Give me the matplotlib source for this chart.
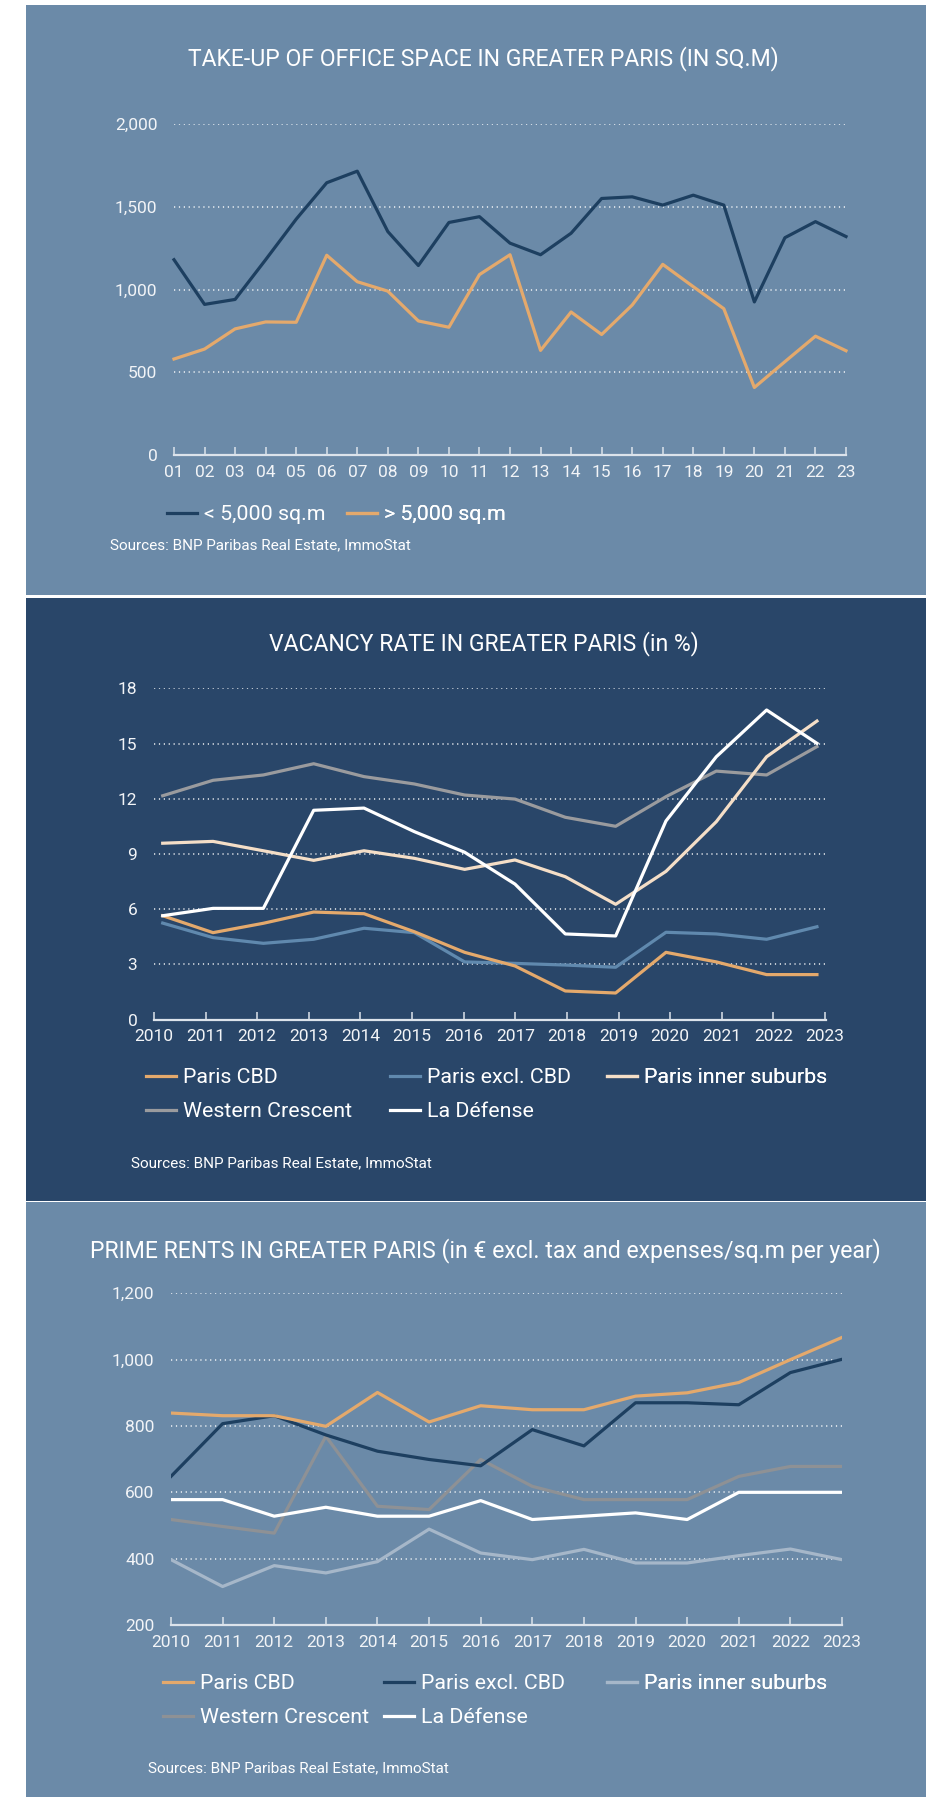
import matplotlib
matplotlib.use("Agg")
import matplotlib.pyplot as plt
from matplotlib.patches import Rectangle
import numpy as np

plt.rcParams['font.family'] = ['Roboto', 'DejaVu Sans']

# --- data ---
takeup_years = ['01', '02', '03', '04', '05', '06', '07', '08', '09', '10', '11', '12',
                '13', '14', '15', '16', '17', '18', '19', '20', '21', '22', '23']
takeup_small = [1180, 910, 940, 1180, 1425, 1645, 1715, 1350, 1145, 1405, 1440, 1280,
                1210, 1340, 1550, 1560, 1510, 1570, 1510, 925, 1313, 1410, 1320]
takeup_large = [580, 640, 762, 804, 802, 1207, 1047, 990, 810, 772, 1090, 1210,
                632, 864, 728, 906, 1152, 1017, 884, 408, 564, 718, 630]

years = ['2010', '2011', '2012', '2013', '2014', '2015', '2016',
         '2017', '2018', '2019', '2020', '2021', '2022', '2023']

vac_cbd = [5.64, 4.72, 5.23, 5.84, 5.75, 4.77, 3.65, 2.91, 1.55, 1.44, 3.65, 3.13, 2.44, 2.44]
vac_excl = [5.24, 4.45, 4.14, 4.36, 4.96, 4.72, 3.13, 3.05, 2.96, 2.84, 4.74, 4.65, 4.36, 5.04]
vac_inner = [9.58, 9.68, 9.17, 8.65, 9.17, 8.76, 8.16, 8.67, 7.76, 6.26, 8.05, 10.75, 14.28, 16.22]
vac_western = [12.16, 13.0, 13.29, 13.9, 13.2, 12.8, 12.2, 11.98, 10.99, 10.5, 12.11, 13.5, 13.29, 14.83]
vac_defense = [5.64, 6.04, 6.04, 11.37, 11.49, 10.21, 9.09, 7.36, 4.65, 4.54, 10.79, 14.28, 16.82, 15.01]

rent_cbd = [839, 831, 831, 799, 901, 812, 861, 849, 849, 890, 900, 931, 1000, 1067]
rent_excl = [648, 807, 831, 773, 724, 699, 680, 789, 740, 870, 870, 864, 961, 1001]
rent_inner = [397, 316, 379, 357, 391, 489, 417, 397, 428, 387, 387, 409, 429, 397]
rent_western = [518, 497, 477, 769, 558, 548, 699, 618, 578, 578, 578, 648, 678, 678]
rent_defense = [578, 578, 528, 555, 528, 528, 575, 518, 528, 538, 518, 600, 600, 600]

# --- colours ---
BG_LIGHT = '#6B8AA8'
BG_DARK = '#294669'
NAVY = '#1D3F60'
ORANGE = '#E4A96C'
STEEL = '#6089AE'
CREAM = '#F4DEC7'
GREY = '#9A9B9E'
GREY3 = '#8E9195'
PALE = '#A6B7C9'
WHITE = '#FFFFFF'
AXIS = '#DCE3EB'

W, H = 926, 1797
fig = plt.figure(figsize=(W / 100, H / 100), dpi=100, facecolor='white')


def fx(x):
    return x / W


def fy(y):
    return 1 - y / H


def panel(y0, y1, color):
    fig.patches.append(Rectangle((fx(26), fy(y1)), fx(926 - 26), (y1 - y0) / H,
                                 transform=fig.transFigure, facecolor=color,
                                 edgecolor='none', zorder=-5))


def make_ax(left, right, top, bottom):
    ax = fig.add_axes([fx(left), fy(bottom), (right - left) / W, (bottom - top) / H])
    ax.set_zorder(2)
    ax.set_facecolor('none')
    for s in ['top', 'right', 'left']:
        ax.spines[s].set_visible(False)
    ax.spines['bottom'].set_color(AXIS)
    ax.spines['bottom'].set_linewidth(1.6)
    ax.tick_params(axis='x', direction='in', length=5.5, width=1.1, color=AXIS,
                   labelcolor='#F2F4F7', labelsize=12.5, pad=7)
    ax.tick_params(axis='y', length=0, labelcolor='#F2F4F7', labelsize=12.5, pad=12)
    ax.grid(axis='y', color='white', linestyle=(0, (0.8, 2.4)), linewidth=1.1, alpha=0.9)
    ax.set_axisbelow(True)
    return ax


def legend_cols(ax, columns, xs, top):
    # one small legend per column so each column sits where the original has it
    hmap = dict(zip(*reversed(ax.get_legend_handles_labels())))
    for labels, x in zip(columns, xs):
        leg = ax.legend([hmap[k] for k in labels], labels, loc='upper left',
                        bbox_to_anchor=(fx(x), fy(top)), bbox_transform=fig.transFigure,
                        frameon=False, fontsize=LEG_FS, labelcolor='white', borderpad=0,
                        borderaxespad=0, handlelength=1.4, handletextpad=0.35,
                        labelspacing=0.72)
        ax.add_artist(leg)


panel(5, 595, BG_LIGHT)
panel(598, 1201, BG_DARK)
panel(1202, 1797, BG_LIGHT)

lw = 2.3
TITLE_FS = 16.6
LEG_FS = 15.4
SRC = 'Sources: BNP Paribas Real Estate, ImmoStat'

# --- panel 1: take-up ---
ax1 = make_ax(174, 846, 124, 455)
x1 = np.arange(len(takeup_years))
ax1.plot(x1, takeup_small, color=NAVY, lw=lw, label='< 5,000 sq.m', clip_on=False)
ax1.plot(x1, takeup_large, color=ORANGE, lw=lw, label='> 5,000 sq.m', clip_on=False)
ax1.set_xlim(0, len(takeup_years) - 1)
ax1.set_ylim(0, 2000)
ax1.set_xticks(x1)
ax1.set_xticklabels(takeup_years)
ax1.set_yticks([0, 500, 1000, 1500, 2000])
ax1.set_yticklabels(['0', '500', '1,000', '1,500', '2,000'])
ax1.yaxis.get_gridlines()[0].set_visible(False)

fig.text(fx(483), fy(59), 'TAKE-UP OF OFFICE SPACE IN GREATER PARIS (IN SQ.M)',
         ha='center', va='center', color='white', fontsize=TITLE_FS)
legend_cols(ax1, [['< 5,000 sq.m'], ['> 5,000 sq.m']], [167, 347], 505)
fig.text(fx(110), fy(545), SRC, ha='left', va='center', color='white', fontsize=11)

# --- panel 2: vacancy ---
ax2 = make_ax(154, 826, 688.3, 1019.5)
x2 = np.arange(len(years))
ax2.plot(x2, vac_western, color=GREY, lw=lw, label='Western Crescent')
ax2.plot(x2, vac_excl, color=STEEL, lw=lw, label='Paris excl. CBD')
ax2.plot(x2, vac_cbd, color=ORANGE, lw=lw, label='Paris CBD')
ax2.plot(x2, vac_inner, color=CREAM, lw=lw, label='Paris inner suburbs')
ax2.plot(x2, vac_defense, color=WHITE, lw=lw, label='La Défense')
ax2.set_xlim(-0.173, 13.18)
ax2.set_ylim(0, 18)
ax2.set_xticks(np.linspace(-0.173, 13.16, len(years)))
ax2.set_xticklabels(years)
ax2.set_yticks([0, 3, 6, 9, 12, 15, 18])
ax2.yaxis.get_gridlines()[0].set_visible(False)

fig.text(fx(484), fy(644), 'VACANCY RATE IN GREATER PARIS (in %)',
         ha='center', va='center', color='white', fontsize=TITLE_FS)
cols = [['Paris CBD', 'Western Crescent'], ['Paris excl. CBD', 'La Défense'], ['Paris inner suburbs']]
legend_cols(ax2, cols, [146, 390, 607], 1068)
fig.text(fx(131), fy(1163), SRC, ha='left', va='center', color='white', fontsize=11)

# --- panel 3: prime rents ---
ax3 = make_ax(171, 842, 1293.3, 1625)
ax3.plot(x2, rent_inner, color=PALE, lw=lw, label='Paris inner suburbs')
ax3.plot(x2, rent_western, color=GREY3, lw=lw, label='Western Crescent')
ax3.plot(x2, rent_defense, color=WHITE, lw=lw, label='La Défense')
ax3.plot(x2, rent_excl, color=NAVY, lw=lw, label='Paris excl. CBD')
ax3.plot(x2, rent_cbd, color=ORANGE, lw=lw, label='Paris CBD')
ax3.set_xlim(0, 13)
ax3.set_ylim(200, 1200)
ax3.set_xticks(x2)
ax3.set_xticklabels(years)
ax3.set_yticks([200, 400, 600, 800, 1000, 1200])
ax3.set_yticklabels(['200', '400', '600', '800', '1,000', '1,200'])
ax3.yaxis.get_gridlines()[0].set_visible(False)

fig.text(fx(485), fy(1251), 'PRIME RENTS IN GREATER PARIS (in € excl. tax and expenses/sq.m per year)',
         ha='center', va='center', color='white', fontsize=TITLE_FS)
legend_cols(ax3, cols, [163, 384, 607], 1674)
fig.text(fx(148), fy(1768), SRC, ha='left', va='center', color='white', fontsize=11)

fig.savefig('out.png', dpi=100, facecolor='white')
